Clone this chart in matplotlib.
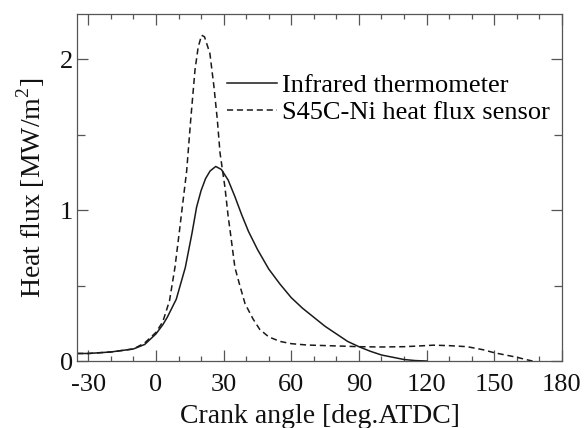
import matplotlib
matplotlib.use("Agg")
import matplotlib.pyplot as plt
from matplotlib.ticker import MultipleLocator

plt.rcParams['font.family'] = ['Liberation Serif', 'DejaVu Serif']
plt.rcParams['mathtext.fontset'] = 'custom'
plt.rcParams['mathtext.rm'] = 'Liberation Serif'
plt.rcParams['axes.unicode_minus'] = False

# Infrared thermometer (solid)
ir_angle = [-35, -30, -20, -10, -5, 0, 3, 5, 9, 13, 16, 18, 20, 22, 24, 26.5,
            29, 32, 35, 38, 41, 45, 50, 55, 60, 65, 70, 75, 80, 85, 90, 95,
            100, 105, 110, 115, 120]
ir_flux = [0.05, 0.05, 0.06, 0.08, 0.11, 0.18, 0.24, 0.29, 0.41, 0.62, 0.85,
           1.02, 1.13, 1.21, 1.26, 1.29, 1.27, 1.2, 1.09, 0.97, 0.86, 0.74,
           0.61, 0.51, 0.42, 0.35, 0.29, 0.23, 0.18, 0.13, 0.095, 0.065, 0.04,
           0.025, 0.01, 0.003, 0.0]

# S45C-Ni heat flux sensor (dashed)
hf_angle = [-35, -30, -20, -10, -5, 0, 3, 6, 8.4, 10.3, 11.5, 13.6, 15.4,
            17.3, 18.7, 20.2, 21.5, 23.9, 25.7, 27.2, 28.4, 30.6, 32, 33, 35,
            37.2, 39.5, 43, 46, 50, 55, 60, 67, 80, 90, 100, 110, 117, 123,
            130, 138, 145, 150, 155, 160, 164, 167]
hf_flux = [0.05, 0.05, 0.06, 0.08, 0.12, 0.19, 0.26, 0.40, 0.62, 0.85, 1.0,
           1.26, 1.6, 1.93, 2.08, 2.16, 2.15, 2.04, 1.82, 1.6, 1.38, 1.15,
           0.96, 0.85, 0.62, 0.5, 0.38, 0.28, 0.21, 0.16, 0.13, 0.115, 0.106,
           0.1, 0.095, 0.093, 0.095, 0.1, 0.105, 0.102, 0.095, 0.075, 0.055,
           0.04, 0.025, 0.01, 0.0]

labels = ["Infrared thermometer", "S45C-Ni heat flux sensor"]

fig = plt.figure(figsize=(5.84, 4.28), dpi=100)
ax = fig.add_axes([0.132, 0.1565, 0.830, 0.8105])

ax.plot(ir_angle, ir_flux, '-', color='#1a1a1a', lw=1.1, label=labels[0])
ax.plot(hf_angle, hf_flux, color='#1a1a1a', lw=1.1, ls=(0, (4, 2.5)),
        label=labels[1])

ax.set_xlim(-35, 180)
ax.set_ylim(0, 2.3)
ax.xaxis.set_major_locator(MultipleLocator(30))
ax.xaxis.set_minor_locator(MultipleLocator(10))
ax.yaxis.set_major_locator(MultipleLocator(1))
ax.yaxis.set_minor_locator(MultipleLocator(0.5))

ax.tick_params(which='both', direction='in', top=True, right=True,
               colors='#555555', labelcolor='#111111', labelsize=19)
ax.tick_params(which='major', length=8, width=0.9)
ax.tick_params(axis='x', which='minor', length=3.8, width=0.9)
ax.tick_params(axis='y', which='minor', length=5.5, width=0.9)
ax.tick_params(axis='x', pad=9)
ax.tick_params(axis='y', pad=3)
for s in ax.spines.values():
    s.set_color('#555555')
    s.set_linewidth(0.9)

ax.set_xlabel("Crank angle [deg.ATDC]", fontsize=20, color='#111111',
              labelpad=6)
ax.set_ylabel("Heat flux [MW/m$^2$]", fontsize=20, color='#111111',
              labelpad=9)

ax.legend(loc='upper left', bbox_to_anchor=(0.309, 0.828), frameon=False,
          fontsize=19, handlelength=1.9, handletextpad=0.2, labelspacing=0.12,
          borderpad=0, borderaxespad=0)

fig.savefig("out.png", dpi=100, facecolor='white')
